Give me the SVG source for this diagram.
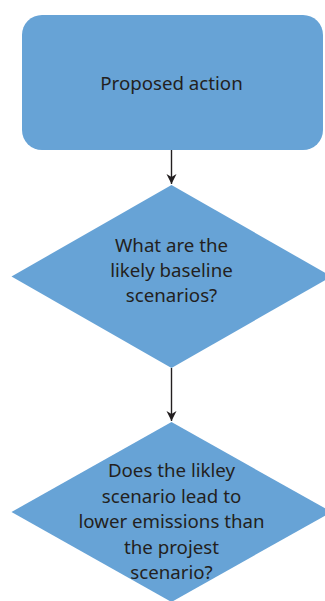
<svg xmlns="http://www.w3.org/2000/svg" width="325" height="601" viewBox="0 0 325 601">
<style>
.shape{fill:#67a3d6;}
.lbl{font-family:"Noto Sans","Liberation Sans",sans-serif;font-size:18.7px;fill:#231f20;text-anchor:middle;}
.conn{stroke:#231f20;stroke-width:1.4;fill:none;}
</style>
<defs>
<marker id="arr" markerWidth="10" markerHeight="12" viewBox="0 0 10 12" refX="10" refY="6" orient="auto" markerUnits="userSpaceOnUse">
<path d="M0,1 L10,6 L0,11 L3,6 Z" fill="#231f20"/>
</marker>
</defs>
<rect width="325" height="601" fill="#ffffff"/>
<g id="connectors">
<line class="conn" x1="171.5" y1="150" x2="171.5" y2="184" marker-end="url(#arr)"/>
<line class="conn" x1="171.5" y1="368" x2="171.5" y2="421" marker-end="url(#arr)"/>
</g>
<g id="n1">
<rect class="shape" x="22" y="15" width="301" height="135" rx="20" ry="20"/>
<text class="lbl" x="171.5" y="90">Proposed action</text>
</g>
<g id="n2">
<polygon class="shape" points="171.5,185 331.5,276.5 171.5,368 11.5,276.5"/>
<text class="lbl" x="171.5" y="252">What are the</text>
<text class="lbl" x="171.5" y="277">likely baseline</text>
<text class="lbl" x="171.5" y="302">scenarios?</text>
</g>
<g id="n3">
<polygon class="shape" points="171.5,422 331.5,512 171.5,602 11.5,512"/>
<text class="lbl" x="171.5" y="477">Does the likley</text>
<text class="lbl" x="171.5" y="503">scenario lead to</text>
<text class="lbl" x="171.5" y="528">lower emissions than</text>
<text class="lbl" x="171.5" y="554">the projest</text>
<text class="lbl" x="171.5" y="579">scenario?</text>
</g>
</svg>
